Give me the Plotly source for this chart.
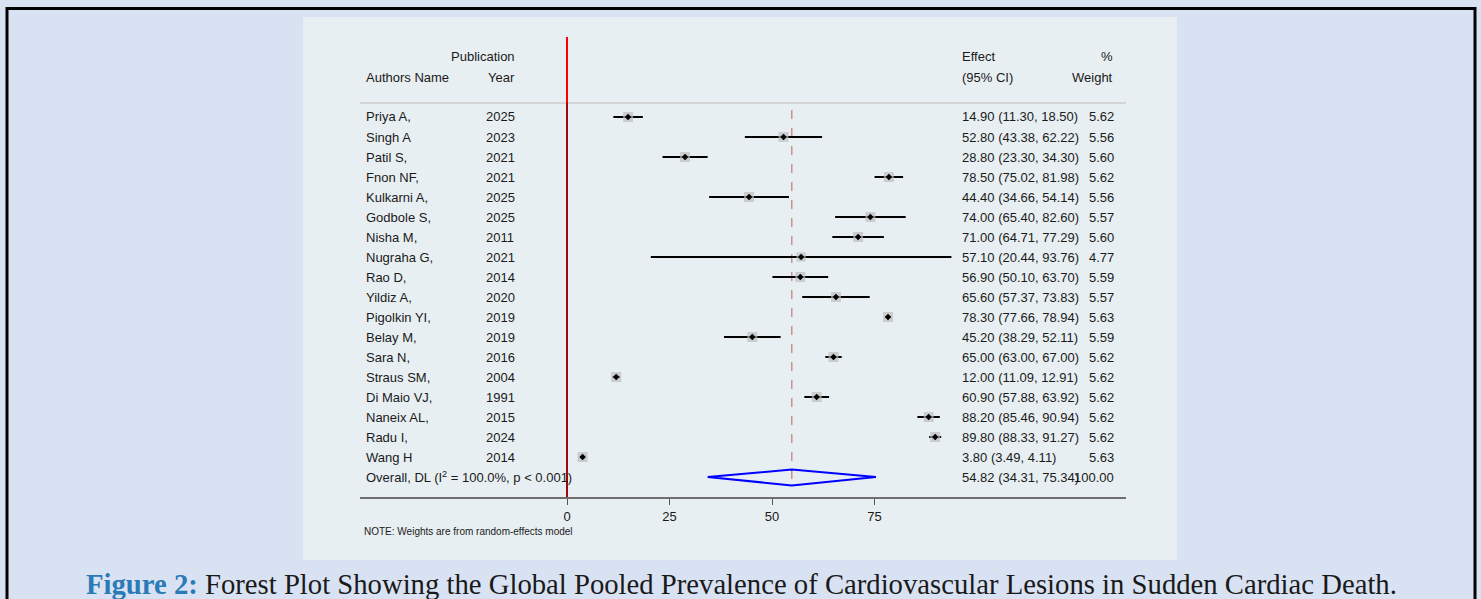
import plotly.graph_objects as go

W, H = 1481, 599

authors = ["Priya A,", "Singh A", "Patil S,", "Fnon NF,", "Kulkarni A,", "Godbole S,",
           "Nisha M,", "Nugraha G,", "Rao D,", "Yildiz A,", "Pigolkin YI,", "Belay M,",
           "Sara N,", "Straus SM,", "Di Maio VJ,", "Naneix AL,", "Radu I,", "Wang H"]
years = [2025, 2023, 2021, 2021, 2025, 2025, 2011, 2021, 2014, 2020, 2019, 2019,
         2016, 2004, 1991, 2015, 2024, 2014]
effect = [14.90, 52.80, 28.80, 78.50, 44.40, 74.00, 71.00, 57.10, 56.90, 65.60, 78.30,
          45.20, 65.00, 12.00, 60.90, 88.20, 89.80, 3.80]
ci_low = [11.30, 43.38, 23.30, 75.02, 34.66, 65.40, 64.71, 20.44, 50.10, 57.37, 77.66,
          38.29, 63.00, 11.09, 57.88, 85.46, 88.33, 3.49]
ci_high = [18.50, 62.22, 34.30, 81.98, 54.14, 82.60, 77.29, 93.76, 63.70, 73.83, 78.94,
           52.11, 67.00, 12.91, 63.92, 90.94, 91.27, 4.11]
weights = [5.62, 5.56, 5.60, 5.62, 5.56, 5.57, 5.60, 4.77, 5.59, 5.57, 5.63, 5.59,
           5.62, 5.62, 5.62, 5.62, 5.62, 5.63]
overall_label = "Overall, DL (I<sup>2</sup> = 100.0%, p < 0.001)"
overall_effect, overall_low, overall_high, overall_weight = 54.82, 34.31, 75.34, 100.00
x_ticks = [0, 25, 50, 75]

def px(x):
    return x / W

def py(y):
    return 1 - y / H

FONT = "Liberation Sans, Arial, sans-serif"
TXT = "#1a1a1a"
rows = list(range(len(authors)))
overall_row = len(authors)

fig = go.Figure()

# CI lines
cx, cy = [], []
for r, l, h in zip(rows, ci_low, ci_high):
    cx += [l, h, None]
    cy += [r, r, None]
fig.add_trace(go.Scatter(x=cx, y=cy, mode="lines", line=dict(color="black", width=2),
                         hoverinfo="skip", showlegend=False))
# weight boxes
fig.add_trace(go.Scatter(x=effect, y=rows, mode="markers",
                         marker=dict(symbol="square", color="#bdbdbd",
                                     size=[10 * (w / 5.62) ** 0.5 for w in weights],
                                     line=dict(width=0)),
                         hoverinfo="skip", showlegend=False))
# point estimates
fig.add_trace(go.Scatter(x=effect, y=rows, mode="markers",
                         marker=dict(symbol="diamond", color="black", size=5),
                         hoverinfo="skip", showlegend=False))
# overall diamond
fig.add_trace(go.Scatter(
    x=[overall_low, overall_effect, overall_high, overall_effect, overall_low],
    y=[overall_row, overall_row - 0.37, overall_row, overall_row + 0.42, overall_row],
    mode="lines", line=dict(color="#0000ff", width=2), hoverinfo="skip", showlegend=False))

shapes = []
# outer border
shapes.append(dict(type="rect", xref="paper", yref="paper", x0=px(7), x1=px(1475),
                   y0=py(620), y1=py(8.5), line=dict(color="black", width=3),
                   fillcolor="rgba(0,0,0,0)", layer="above"))
# inner panel
shapes.append(dict(type="rect", xref="paper", yref="paper", x0=px(303), x1=px(1177),
                   y0=py(560), y1=py(17), line=dict(width=0), fillcolor="#e8eff2",
                   layer="below"))
# header separator
shapes.append(dict(type="line", xref="paper", yref="y", x0=px(360), x1=px(1126),
                   y0=-0.7, y1=-0.7, line=dict(color="#d4d4d4", width=2)))
# null line (red)
shapes.append(dict(type="line", xref="x", yref="y", x0=0, x1=0, y0=-4, y1=-0.7,
                   line=dict(color="#ff0000", width=2)))
shapes.append(dict(type="line", xref="x", yref="y", x0=0, x1=0, y0=-0.7, y1=19,
                   line=dict(color="#9a0a0a", width=2)))
# overall dashed line
shapes.append(dict(type="line", xref="x", yref="y", x0=overall_effect, x1=overall_effect,
                   y0=-0.35, y1=overall_row + 0.42,
                   line=dict(color="#c99393", width=1.5, dash="dash"), layer="below"))
fig.update_layout(shapes=shapes)

ann = []
def T(x, y, text, anchor="left", size=13, color=TXT, xref="paper", yref="y", family=FONT):
    shift = -2 if anchor == "left" else 2
    ann.append(dict(x=px(x + shift), y=y, xref=xref, yref=yref, text=text, showarrow=False,
                    xanchor=anchor, yanchor="middle",
                    font=dict(family=family, size=size, color=color)))

# headers
T(515, -3, "Publication", "right")
T(366, -1.95, "Authors Name")
T(515, -1.95, "Year", "right")
T(962, -3, "Effect")
T(1113, -3, "%", "right")
T(962, -1.95, "(95% CI)")
T(1113, -1.95, "Weight", "right")

for r, a, yv, e, l, h, w in zip(rows, authors, years, effect, ci_low, ci_high, weights):
    T(366, r, a)
    T(486, r, str(yv))
    T(962, r, f"{e:.2f} ({l:.2f}, {h:.2f})")
    T(1114, r, f"{w:.2f}", "right")

T(366, overall_row, overall_label)
T(962, overall_row, f"{overall_effect:.2f} ({overall_low:.2f}, {overall_high:.2f})")
T(1114, overall_row, f"{overall_weight:.2f}", "right")

# note
ann.append(dict(x=px(362), y=py(531), xref="paper", yref="paper",
                text="NOTE: Weights are from random-effects model", showarrow=False,
                xanchor="left", yanchor="middle",
                font=dict(family=FONT, size=10, color=TXT)))
# caption
ann.append(dict(x=px(741), y=py(584), xref="paper", yref="paper",
                text="<span style='color:#2a7ab8'><b>Figure 2:</b></span> Forest Plot Showing the Global Pooled Prevalence of Cardiovascular Lesions in Sudden Cardiac Death.",
                showarrow=False, xanchor="center", yanchor="middle",
                font=dict(family="Liberation Serif, Times New Roman, serif", size=28.7,
                          color="#1a1a1a")))
fig.update_layout(annotations=ann)

x0_pix, x1_pix, zero_pix, ppu = 360, 1126, 567, 4.1
xmin = (x0_pix - zero_pix) / ppu
xmax = xmin + (x1_pix - x0_pix) / ppu

fig.update_layout(
    width=W, height=H, margin=dict(l=0, r=0, t=0, b=0),
    paper_bgcolor="#d9e2f2", plot_bgcolor="white",
    xaxis=dict(domain=[px(360), px(1126)], range=[xmin, xmax], tickvals=x_ticks,
               ticks="outside", ticklen=6, tickwidth=1, tickcolor="#555",
               showline=True, linecolor="#6e6e6e", linewidth=2, showgrid=False,
               zeroline=False, tickfont=dict(family=FONT, size=13, color=TXT)),
    yaxis=dict(domain=[py(497), py(37)], range=[19, -4], visible=False,
               showgrid=False, zeroline=False),
)

fig.write_html("out.html")
